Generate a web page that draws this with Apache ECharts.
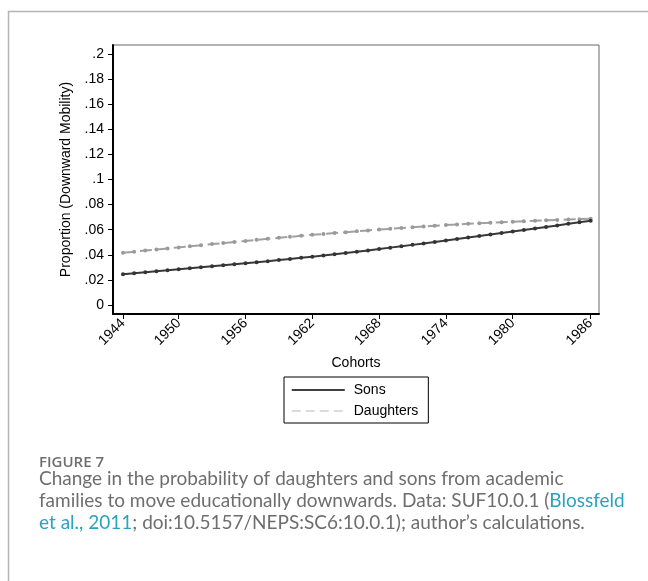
<!DOCTYPE html>
<html>
<head>
<meta charset="utf-8">
<script src="https://cdn.jsdelivr.net/npm/echarts@6/dist/echarts.min.js"></script>
<style>
  html, body { margin: 0; padding: 0; background: #fff; }
  #chart { width: 648px; height: 581px; }
</style>
</head>
<body>
<div id="chart"></div>
<script>
// Birth cohorts on the x axis
const cohorts = [
  1944, 1945, 1946, 1947, 1948, 1949, 1950, 1951, 1952, 1953, 1954,
  1955, 1956, 1957, 1958, 1959, 1960, 1961, 1962, 1963, 1964, 1965,
  1966, 1967, 1968, 1969, 1970, 1971, 1972, 1973, 1974, 1975, 1976,
  1977, 1978, 1979, 1980, 1981, 1982, 1983, 1984, 1985, 1986
];

// Predicted proportion moving educationally downwards
const sons = [
  0.0244, 0.0252, 0.0260, 0.0268, 0.0276, 0.0284, 0.0292, 0.0300, 0.0308, 0.0316, 0.0324,
  0.0332, 0.0341, 0.0349, 0.0358, 0.0367, 0.0376, 0.0385, 0.0395, 0.0405, 0.0415, 0.0425,
  0.0435, 0.0446, 0.0457, 0.0468, 0.0479, 0.0490, 0.0501, 0.0513, 0.0525, 0.0537, 0.0549,
  0.0561, 0.0573, 0.0585, 0.0597, 0.0609, 0.0622, 0.0634, 0.0647, 0.0660, 0.0672
];
const daughters = [
  0.0417, 0.0425, 0.0434, 0.0442, 0.0451, 0.0459, 0.0468, 0.0476, 0.0485, 0.0493, 0.0502,
  0.0510, 0.0519, 0.0527, 0.0535, 0.0543, 0.0551, 0.0559, 0.0566, 0.0573, 0.0580, 0.0587,
  0.0594, 0.0601, 0.0607, 0.0613, 0.0619, 0.0625, 0.0631, 0.0637, 0.0642, 0.0647, 0.0651,
  0.0656, 0.0660, 0.0664, 0.0668, 0.0671, 0.0675, 0.0678, 0.0681, 0.0684, 0.0687
];

// Labelled x ticks (cohort position and the text printed there)
const xTickCohorts = [1944, 1949, 1955, 1961, 1967, 1973, 1979, 1986];
const xTickLabels = ['1944', '1950', '1956', '1962', '1968', '1974', '1980', '1986'];

// y ticks and their printed labels
const yTicks = [0, 0.02, 0.04, 0.06, 0.08, 0.1, 0.12, 0.14, 0.16, 0.18, 0.2];
const yTickLabels = ['0', '.02', '.04', '.06', '.08', '.1', '.12', '.14', '.16', '.18', '.2'];

const captionTitle = 'FIGURE 7';
const captionLines = [
  'Change in the probability of daughters and sons from academic',
  'families to move educationally downwards. Data: SUF10.0.1 (',
  '; doi:10.5157/NEPS:SC6:10.0.1); author\u2019s calculations.'
];
const citeParts = ['Blossfeld', 'et al., 2011'];

const axisFont = 'Liberation Sans, Arial, sans-serif';
const capFont = 'Lato, "Open Sans", sans-serif';
const capColor = '#6e6e6e';
const linkColor = '#2aa3bd';

const sonsData = cohorts.map((c, i) => [c, sons[i]]);
const daughtersData = cohorts.map((c, i) => [c, daughters[i]]);

const chart = echarts.init(document.getElementById('chart'), null, { renderer: 'canvas' });

chart.setOption({
  backgroundColor: '#ffffff',
  animation: false,
  grid: {
    left: 113, right: 49, top: 45, bottom: 267,
    show: true, borderColor: '#666', borderWidth: 1, backgroundColor: 'transparent'
  },
  xAxis: {
    type: 'value',
    min: 1943.1,
    max: 1986.75,
    name: 'Cohorts',
    nameLocation: 'middle',
    nameGap: 42,
    nameTextStyle: { fontFamily: axisFont, fontSize: 14, color: '#000' },
    axisLine: { show: true, onZero: false, lineStyle: { color: '#000', width: 2 } },
    axisTick: { show: true, length: 5, customValues: xTickCohorts, lineStyle: { color: '#000', width: 1 } },
    axisLabel: {
      customValues: xTickCohorts,
      rotate: 45,
      margin: 7,
      fontFamily: axisFont, fontSize: 14, color: '#000',
      formatter: v => xTickLabels[xTickCohorts.indexOf(v)]
    },
    splitLine: { show: false }
  },
  yAxis: {
    type: 'value',
    min: -0.0072,
    max: 0.2072,
    name: 'Proportion (Downward Mobility)',
    nameLocation: 'middle',
    nameGap: 37,
    nameTextStyle: { fontFamily: axisFont, fontSize: 14, color: '#000' },
    axisLine: { show: true, onZero: false, lineStyle: { color: '#000', width: 2 } },
    axisTick: { show: true, length: 5, customValues: yTicks, lineStyle: { color: '#000', width: 1 } },
    axisLabel: {
      customValues: yTicks,
      margin: 9,
      fontFamily: axisFont, fontSize: 14, color: '#000',
      formatter: v => yTickLabels[yTicks.indexOf(v)]
    },
    splitLine: { show: false }
  },
  legend: {
    orient: 'vertical',
    left: 284,
    top: 377,
    backgroundColor: '#fff',
    borderColor: '#000',
    borderWidth: 1,
    borderRadius: 0,
    padding: [6, 10, 5, 7],
    itemWidth: 53,
    itemHeight: 12,
    itemGap: 7,
    selectedMode: false,
    textStyle: { fontFamily: axisFont, fontSize: 14, color: '#000', padding: [0, 0, 0, 4] },
    data: [
      { name: 'Sons', itemStyle: { opacity: 0 }, lineStyle: { color: '#000', width: 1.5, type: 'solid' } },
      { name: 'Daughters', itemStyle: { opacity: 0 }, lineStyle: { color: '#cfcfcf', width: 1.5, type: [9, 5] } }
    ]
  },
  series: [
    {
      name: 'Sons',
      type: 'line',
      data: sonsData,
      symbol: 'circle',
      symbolSize: 4,
      showAllSymbol: true,
      z: 3,
      itemStyle: { color: '#333' },
      lineStyle: { color: '#383838', width: 2 }
    },
    {
      name: 'Daughters',
      type: 'line',
      data: daughtersData,
      symbol: 'circle',
      symbolSize: 4,
      showAllSymbol: true,
      z: 2,
      itemStyle: { color: '#9a9a9a' },
      lineStyle: { color: '#a0a0a0', width: 2, type: [12, 5] }
    }
  ],
  graphic: [
    {
      type: 'rect',
      silent: true,
      shape: { x: 8.5, y: 11.5, width: 700, height: 600 },
      style: { fill: 'none', stroke: '#b4b4b4', lineWidth: 1.5 }
    },
    {
      type: 'text',
      left: 39, top: 455,
      style: { text: captionTitle, font: '600 15px "Open Sans", Lato, sans-serif', fill: capColor }
    },
    {
      type: 'text',
      left: 39, top: 469,
      style: { text: captionLines[0], font: '19px ' + capFont, fill: capColor }
    },
    {
      type: 'text',
      left: 39, top: 491,
      style: {
        text: captionLines[1] + '{l|' + citeParts[0] + '}',
        font: '19px ' + capFont, fill: capColor,
        rich: { l: { font: '19px ' + capFont, fill: linkColor } }
      }
    },
    {
      type: 'text',
      left: 39, top: 513,
      style: {
        text: '{l|' + citeParts[1] + '}' + captionLines[2],
        font: '19px ' + capFont, fill: capColor,
        rich: { l: { font: '19px ' + capFont, fill: linkColor } }
      }
    }
  ]
});
</script>
</body>
</html>
